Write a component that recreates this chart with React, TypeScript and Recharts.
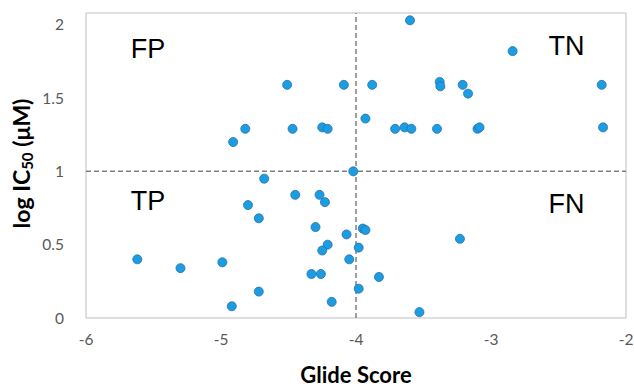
import React from 'react';
import {
  ReferenceArea,
  ReferenceDot,
  ReferenceLine,
  Scatter,
  ScatterChart,
  XAxis,
  YAxis,
  ZAxis,
} from 'recharts';

// Glide docking score vs measured log IC50
const glideScore = [
  -4.51, -4.09, -3.88, -3.38, -3.375, -3.21, -2.18, -3.6, -2.84, -3.17,
  -3.93, -4.82, -4.47, -4.25, -4.21, -3.71, -3.64, -3.59, -3.4, -3.1,
  -3.085, -2.17, -4.91, -4.02, -4.68, -4.45, -4.27, -4.23, -4.8, -4.72,
  -4.3, -4.07, -4.21, -4.25, -3.98, -5.62, -5.3, -4.99, -4.05, -4.33,
  -4.26, -4.72, -4.92, -4.18, -3.98, -3.95, -3.93, -3.83, -3.53, -3.23,
];
const logIC50 = [
  1.59, 1.59, 1.59, 1.61, 1.58, 1.59, 1.59, 2.03, 1.82, 1.53,
  1.36, 1.29, 1.29, 1.3, 1.29, 1.29, 1.3, 1.29, 1.29, 1.29,
  1.3, 1.3, 1.2, 1.0, 0.95, 0.84, 0.84, 0.79, 0.77, 0.68,
  0.62, 0.57, 0.5, 0.46, 0.48, 0.4, 0.34, 0.38, 0.4, 0.3,
  0.3, 0.18, 0.08, 0.11, 0.2, 0.61, 0.6, 0.28, 0.04, 0.54,
];

const xTicks = [-6, -5, -4, -3, -2];
const yTicks = [0, 0.5, 1, 1.5, 2];

const quadrantText = ['FP', 'TN', 'TP', 'FN'];
const quadrantX = [-5.54, -2.44, -5.54, -2.44];
const quadrantY = [1.84, 1.86, 0.8, 0.78];

const points = glideScore.map((x, i) => ({ x, y: logIC50[i] }));

const tickStyle = { fontSize: 15.5, fill: '#595959', fontFamily: 'Lato' };

function YTitle(props: any) {
  const vb = props.viewBox || {};
  const cx = 21;
  const cy = (vb.y ?? 13) + (vb.height ?? 305) / 2 - 2;
  return (
    <text
      x={cx}
      y={cy}
      transform={`rotate(-90 ${cx} ${cy})`}
      textAnchor="middle"
      dominantBaseline="central"
      fontFamily="Lato"
      fontWeight="bold"
      fontSize={23}
      fill="#000"
    >
      log IC
      <tspan fontSize={15} dy={6}>50</tspan>
      <tspan dy={-6}> (μM)</tspan>
    </text>
  );
}

function XTitle(props: any) {
  const vb = props.viewBox || {};
  return (
    <text
      x={(vb.x ?? 86) + (vb.width ?? 540) / 2}
      y={374}
      textAnchor="middle"
      dominantBaseline="central"
      fontFamily="Lato"
      fontWeight="bold"
      fontSize={22}
      fill="#000"
    >
      Glide Score
    </text>
  );
}

export default function App() {
  return (
    <div style={{ position: 'absolute', left: 0, top: 0, width: 634, height: 388, background: '#fff' }}>
      <ScatterChart width={634} height={388} margin={{ top: 13, right: 8, left: 0, bottom: 0 }}>
        <XAxis
          type="number"
          dataKey="x"
          domain={[-6, -2]}
          ticks={xTicks}
          height={70}
          axisLine={false}
          tickLine={false}
          tickMargin={10}
          tick={tickStyle}
          label={<XTitle />}
        />
        <YAxis
          type="number"
          dataKey="y"
          domain={[0, 2.08]}
          ticks={yTicks}
          width={86}
          axisLine={false}
          tickLine={false}
          tickMargin={16}
          tick={tickStyle}
          label={<YTitle />}
        />
        <ZAxis range={[64, 64]} />
        <ReferenceArea x1={-6} x2={-2} y1={0} y2={2.08} fill="none" stroke="#bfbfbf" strokeWidth={1} />
        <ReferenceLine x={-4} stroke="#7f7f7f" strokeWidth={1.5} strokeDasharray="5 3" />
        <ReferenceLine y={1} stroke="#7f7f7f" strokeWidth={1.5} strokeDasharray="5 3" />
        {quadrantText.map((t, i) => (
          <ReferenceDot
            key={t}
            x={quadrantX[i]}
            y={quadrantY[i]}
            r={0}
            stroke="none"
            label={{
              value: t,
              position: 'center',
              fontSize: 27,
              fontFamily: 'Liberation Sans',
              fill: '#000',
            }}
          />
        ))}
        <Scatter
          data={points}
          fill="#1b9de2"
          stroke="#2a6fae"
          strokeWidth={0.8}
          isAnimationActive={false}
        />
      </ScatterChart>
    </div>
  );
}
